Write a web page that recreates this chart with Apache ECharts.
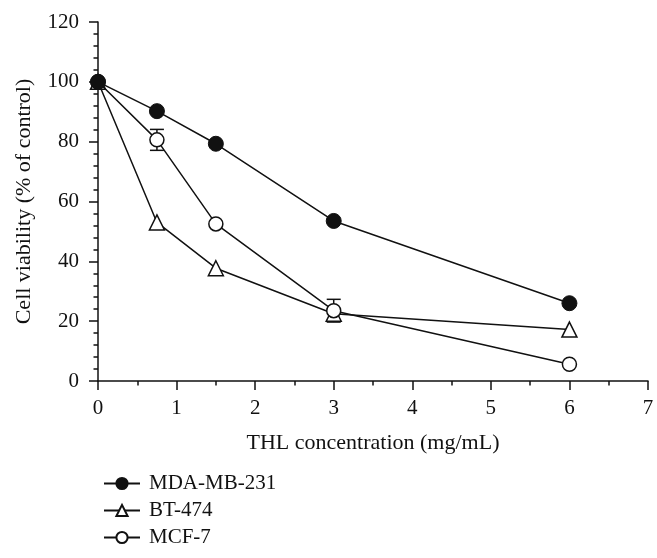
<!DOCTYPE html>
<html>
<head>
<meta charset="utf-8">
<script src="https://cdn.jsdelivr.net/npm/echarts@6/dist/echarts.min.js"></script>
<style>html,body{margin:0;padding:0;background:#fff}#c{width:657px;height:558px}</style>
</head>
<body>
<div id="c"></div>
<script>
const concentrations = [0, 0.75, 1.5, 3, 6];
const mdaValues = [100, 90.2, 79.3, 53.5, 26];
const btValues = [100, 53, 37.7, 22.5, 17.2];
const mcfValues = [100, 80.6, 52.5, 23.5, 5.6];
const mcfErrors = [0, 3.5, 0, 3.8, 0];
const seriesNames = ['MDA-MB-231', 'BT-474', 'MCF-7'];
const xAxisTitle = 'THL concentration (mg/mL)';
const yAxisTitle = 'Cell viability (% of control)';

const FONT = 'Liberation Serif';
const INK = '#111';

function pairs(vals) { return concentrations.map((x, i) => [x, vals[i]]); }
const errData = concentrations.map((x, i) => [x, mcfValues[i] - mcfErrors[i], mcfValues[i] + mcfErrors[i]]).filter((d, i) => mcfErrors[i] > 0);

const chart = echarts.init(document.getElementById('c'));
const axisCommon = {
  axisLine: { lineStyle: { color: INK, width: 1.5 } },
  axisTick: { show: true, inside: false, length: 9, lineStyle: { color: INK, width: 1.5 } },
  minorTick: { show: true, length: 4.5, lineStyle: { color: INK, width: 1.5 } },
  splitLine: { show: false },
  axisLabel: { color: INK, fontFamily: FONT, fontSize: 21 },
  nameTextStyle: { color: INK, fontFamily: FONT, fontSize: 22 },
  nameLocation: 'middle'
};
chart.setOption({
  animation: false,
  backgroundColor: '#fff',
  grid: { left: 98, right: 9, top: 22, bottom: 177, containLabel: false },
  xAxis: Object.assign({}, axisCommon, {
    type: 'value', min: 0, max: 7, interval: 1,
    name: xAxisTitle, nameGap: 51,
    minorTick: Object.assign({}, axisCommon.minorTick, { splitNumber: 2 }),
    axisLabel: Object.assign({}, axisCommon.axisLabel, { margin: 17 })
  }),
  yAxis: Object.assign({}, axisCommon, {
    type: 'value', min: 0, max: 120, interval: 20,
    name: yAxisTitle, nameGap: 63, nameRotate: 90,
    minorTick: Object.assign({}, axisCommon.minorTick, { splitNumber: 5 }),
    axisLabel: Object.assign({}, axisCommon.axisLabel, { margin: 19 })
  }),
  legend: {
    orient: 'vertical', left: 98, top: 468, height: 90,
    itemWidth: 36, itemHeight: 14, itemGap: 6,
    textStyle: { color: INK, fontFamily: FONT, fontSize: 21, lineHeight: 20, padding: [0, 0, 0, 4] },
    data: seriesNames
  },
  series: [
    {
      name: 'errors', type: 'custom', z: 1,
      data: errData,
      renderItem: function (params, api) {
        const lo = api.coord([api.value(0), api.value(1)]);
        const hi = api.coord([api.value(0), api.value(2)]);
        const w = 7;
        const st = { stroke: INK, lineWidth: 1.5 };
        return { type: 'group', children: [
          { type: 'line', shape: { x1: lo[0], y1: lo[1], x2: hi[0], y2: hi[1] }, style: st },
          { type: 'line', shape: { x1: lo[0] - w, y1: lo[1], x2: lo[0] + w, y2: lo[1] }, style: st },
          { type: 'line', shape: { x1: hi[0] - w, y1: hi[1], x2: hi[0] + w, y2: hi[1] }, style: st }
        ] };
      }
    },
    {
      name: seriesNames[0], type: 'line', data: pairs(mdaValues), z: 5,
      symbol: 'circle', symbolSize: 15,
      lineStyle: { color: INK, width: 1.5 },
      itemStyle: { color: INK, borderColor: INK, borderWidth: 1 }
    },
    {
      name: seriesNames[1], type: 'line', data: pairs(btValues), z: 3,
      symbol: 'triangle', symbolSize: 15,
      lineStyle: { color: INK, width: 1.5 },
      itemStyle: { color: '#fff', borderColor: INK, borderWidth: 1.5 }
    },
    {
      name: seriesNames[2], type: 'line', data: pairs(mcfValues), z: 4,
      symbol: 'circle', symbolSize: 14,
      lineStyle: { color: INK, width: 1.5 },
      itemStyle: { color: '#fff', borderColor: INK, borderWidth: 1.5 }
    }
  ]
});
</script>
</body>
</html>
